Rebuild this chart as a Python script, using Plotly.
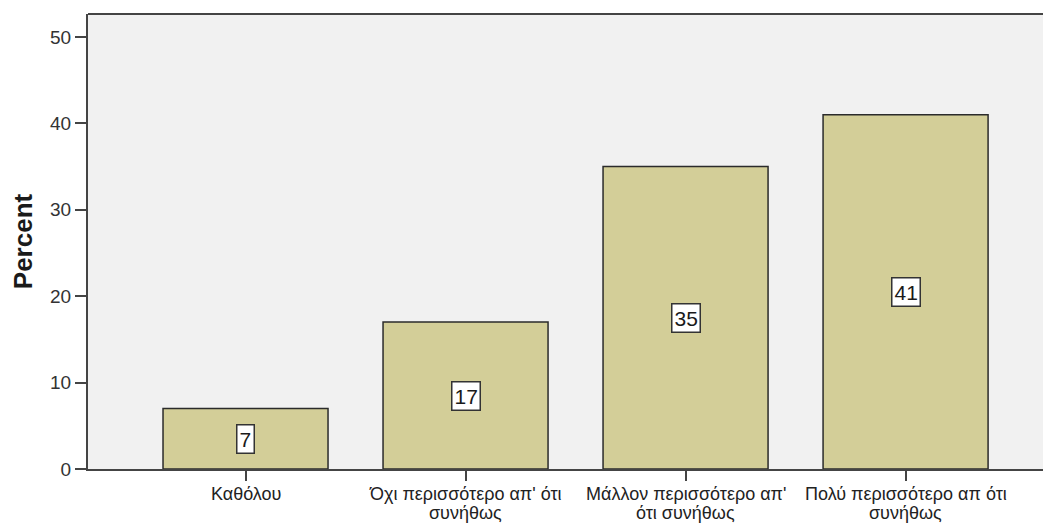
import plotly.graph_objects as go

categories = ["Καθόλου",
              "Όχι περισσότερο απ' ότι|συνήθως",
              "Μάλλον περισσότερο απ'|ότι συνήθως",
              "Πολύ περισσότερο απ ότι|συνήθως"]
percent = [7, 17, 35, 41]
y_ticks = [0, 10, 20, 30, 40, 50]

FONT = "Liberation Sans, Arial, sans-serif"

fig = go.Figure()
fig.add_trace(go.Bar(
    x=list(range(len(categories))), y=percent, width=0.75,
    marker=dict(color="#D3CE98", line=dict(color="#2b2b2b", width=1.5)),
    hoverinfo="skip"))

# value labels in white boxes at half bar height
for i, v in enumerate(percent):
    fig.add_annotation(x=i, y=v / 2, text=str(v), showarrow=False,
                       font=dict(family=FONT, size=21, color="#1a1a1a"),
                       bgcolor="white", bordercolor="#333", borderwidth=1.5, borderpad=2)

# category labels (two tight lines, as in the reference)
for i, cat in enumerate(categories):
    for j, line in enumerate(cat.split("|")):
        fig.add_annotation(x=i, xref="x", y=0, yref="paper", yanchor="top",
                           yshift=-13 - 19 * j, text=line, showarrow=False,
                           font=dict(family=FONT, size=18, color="#222"))

fig.add_shape(type="line", xref="paper", yref="paper", x0=0, x1=1, y0=1, y1=1,
              line=dict(color="#444", width=2))

# page body has an 8px margin: offset the figure so the plot area lands where the reference has it
fig.update_layout(
    width=1051, height=523,
    margin=dict(l=80, r=8, t=6, b=62, autoexpand=False),
    paper_bgcolor="white", plot_bgcolor="#F1F1F1",
    showlegend=False,
    font=dict(family=FONT, size=18, color="#333"),
)
fig.update_xaxes(range=[-0.716, 3.661], tickmode="array",
                 tickvals=list(range(len(categories))),
                 ticktext=["" for _ in categories],
                 ticks="outside", ticklen=10, tickcolor="#444", tickwidth=1.5,
                 showline=True, linecolor="#444", linewidth=2,
                 showgrid=False, zeroline=False)
fig.update_yaxes(range=[0, 52.66], tickvals=y_ticks,
                 ticks="outside", ticklen=11, tickcolor="#444", tickwidth=1.5,
                 showline=True, linecolor="#444", linewidth=2,
                 showgrid=False, zeroline=False,
                 tickfont=dict(family=FONT, size=19, color="#333"),
                 title=dict(text="<b>Percent</b>",
                            font=dict(family=FONT, size=26, color="#1a1a1a"), standoff=10))

fig.write_html("out.html")
